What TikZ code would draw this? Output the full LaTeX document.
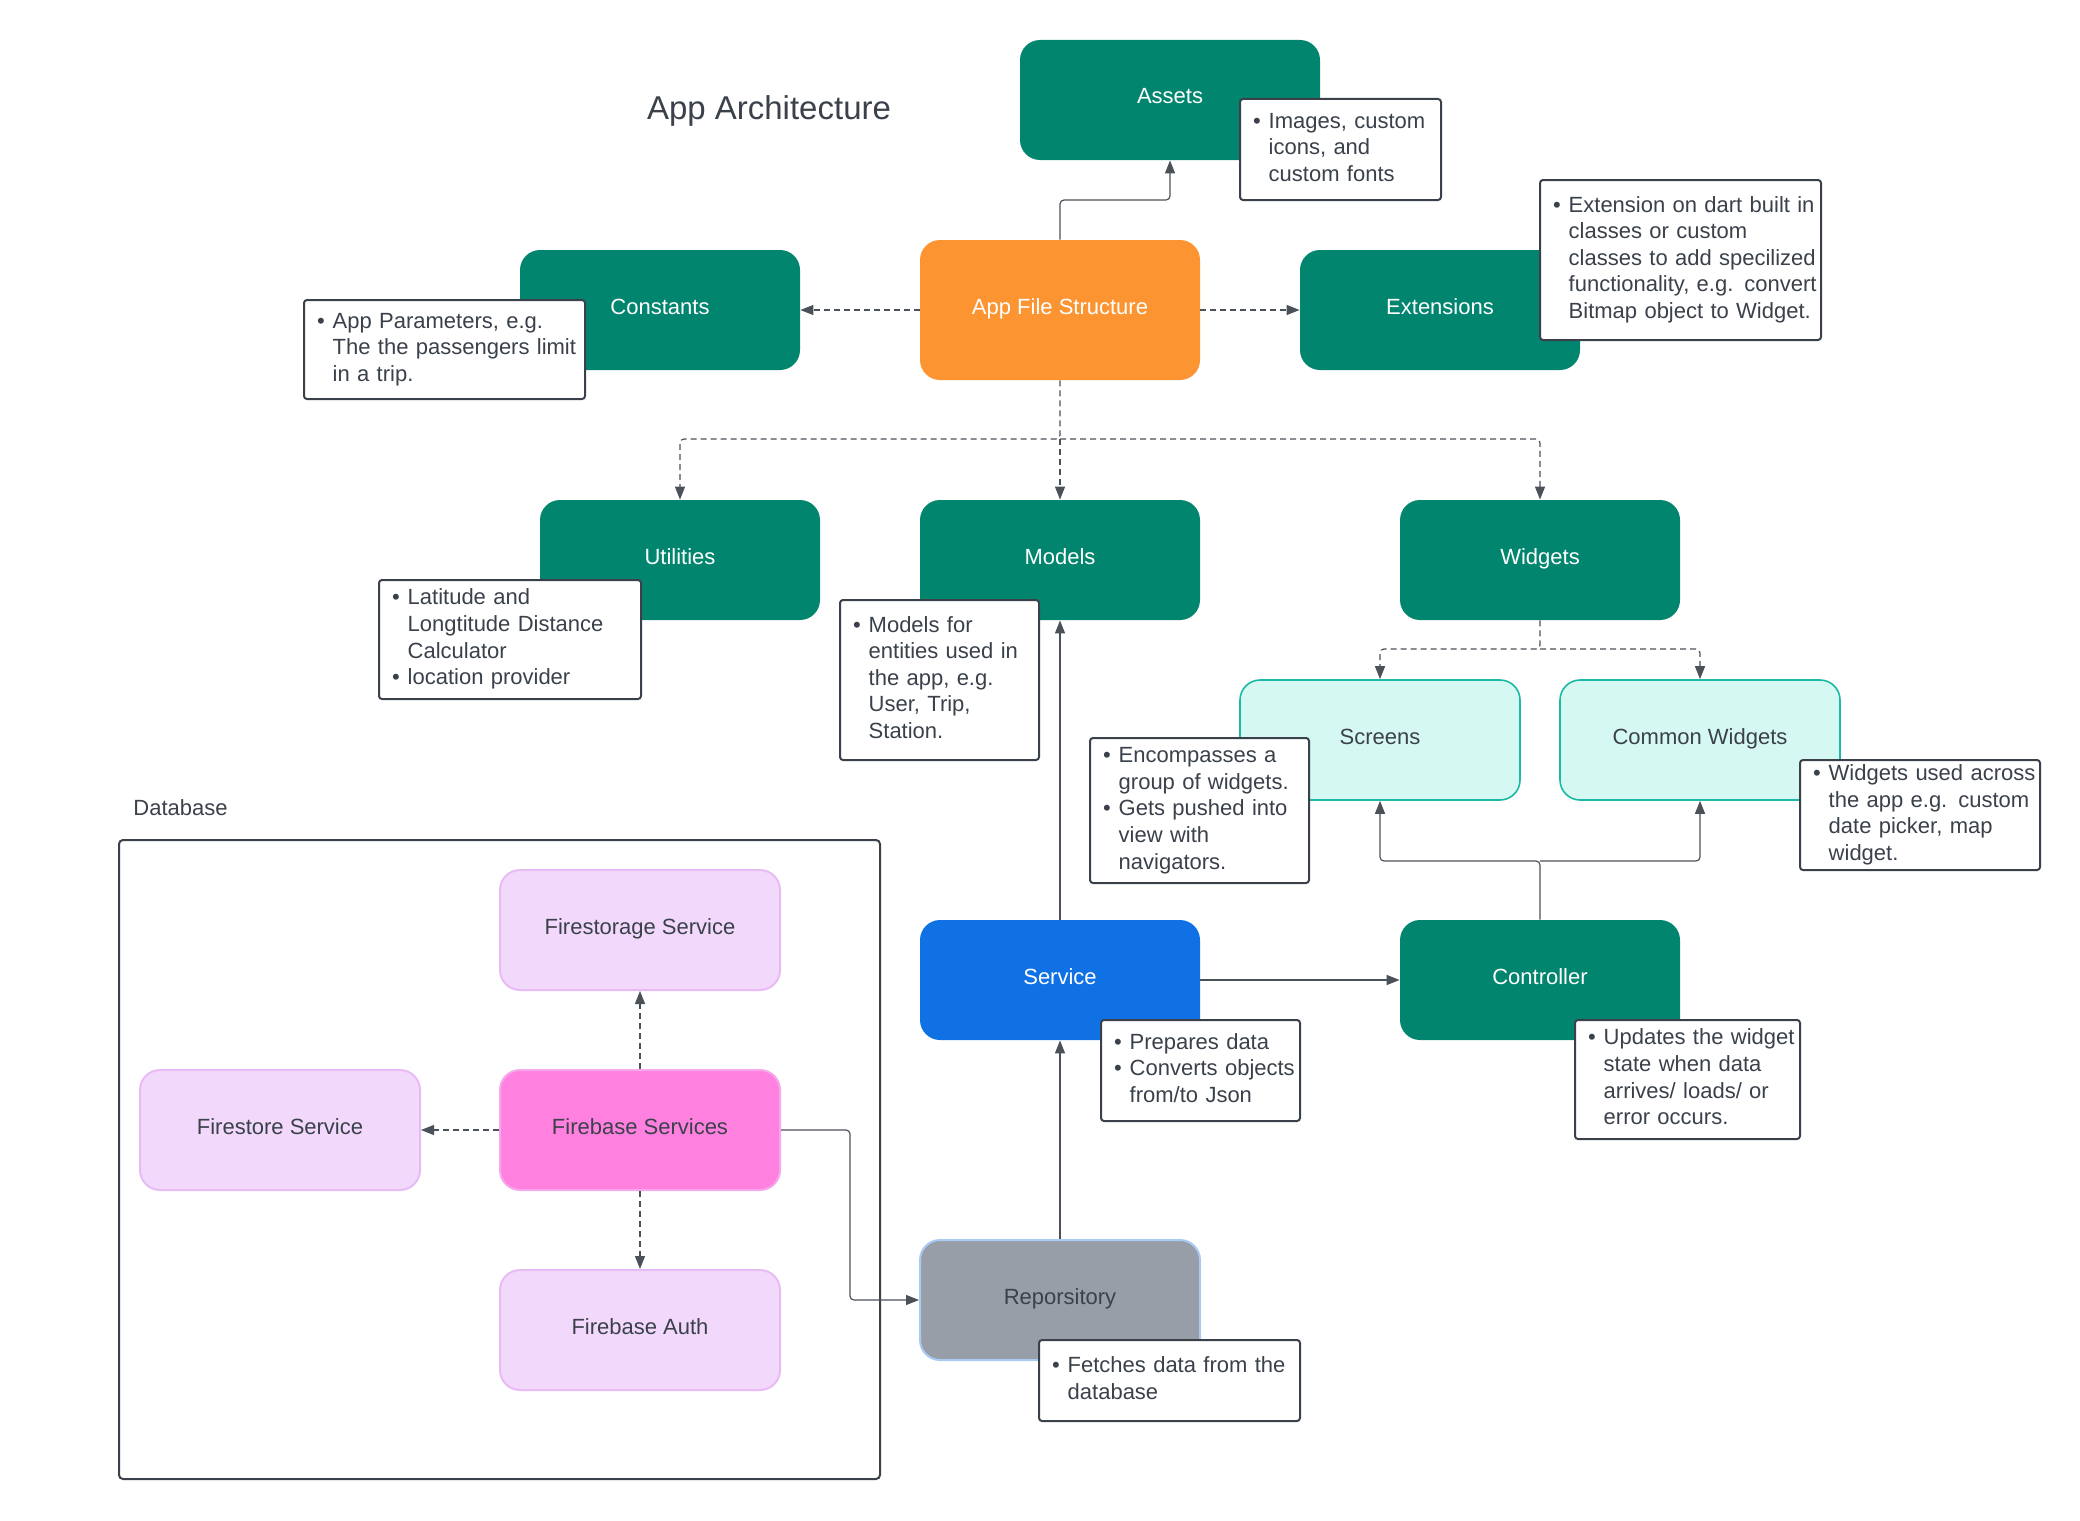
\documentclass[tikz,border=0pt]{standalone}
\usepackage{fontspec}
\setmainfont{Liberation Sans}
\usepackage{xcolor}
\usepackage{tikz}
\usetikzlibrary{positioning, arrows.meta, calc}

\definecolor{tealbg}{HTML}{02856F}
\definecolor{orangebg}{HTML}{FC9432}
\definecolor{bluebg}{HTML}{1071E5}
\definecolor{graybg}{HTML}{979EA8}
\definecolor{grayedge}{HTML}{A9CBF3}
\definecolor{cyanbg}{HTML}{D6F8F2}
\definecolor{cyanedge}{HTML}{1DB9A5}
\definecolor{pinkbg}{HTML}{FF80DF}
\definecolor{pinkedge}{HTML}{F5A8EB}
\definecolor{lilacbg}{HTML}{F2D9FC}
\definecolor{lilacedge}{HTML}{E9BBF6}
\definecolor{inkcol}{HTML}{3A414A}
\definecolor{linecol}{HTML}{4B5159}

\newcommand{\notelist}[1]{\noindent\begin{tabular}{@{}l@{\hspace{4pt}}l@{}}#1\end{tabular}}

\tikzset{
  box/.style={rounded corners=10pt, minimum width=140pt, minimum height=60pt, inner sep=0pt, text height=6pt, text depth=2pt, font=\fontsize{11}{13}\selectfont},
  tealbox/.style={box, fill=tealbg, text=white},
  lightbox/.style={box, fill=lilacbg, draw=lilacedge, line width=1pt, text=inkcol},
  cyanbox/.style={box, fill=cyanbg, draw=cyanedge, line width=0.8pt, text=inkcol},
  note/.style={draw=inkcol, line width=1pt, fill=white, rounded corners=1.5pt, inner xsep=6.5pt, inner ysep=0pt, align=left, text=inkcol, font=\fontsize{11}{13.3}\selectfont},
  link/.style={draw=linecol, line width=0.6pt, rounded corners=2pt, -{Triangle[length=6.5pt,width=5pt]}},
  dashlink/.style={link, dash pattern=on 3pt off 2pt},
}

\begin{document}
\begin{tikzpicture}[x=0.5pt, y=-0.5pt]
\useasboundingbox (0,0) rectangle (2080,1520);

\node[text=inkcol, font=\fontsize{16.5}{20}\selectfont] (title) at (769,111) {App Architecture};

\node[tealbox, minimum width=150pt] (assets) at (1170,100) {Assets};
\node[box, fill=orangebg, text=white, minimum height=70pt] (afs) at (1060,310) {App File Structure};
\node[tealbox] (const) at (660,310) {Constants};
\node[tealbox] (ext) at (1440,310) {Extensions};

\node[tealbox] (util) at (680,560) {Utilities};
\node[tealbox] (models) at (1060,560) {Models};
\node[tealbox] (widgets) at (1540,560) {Widgets};
\node[cyanbox] (screens) at (1380,740) {Screens};
\node[cyanbox] (common) at (1700,740) {Common Widgets};

\node[box, fill=bluebg, text=white] (service) at (1060,980) {Service};
\node[tealbox] (ctrl) at (1540,980) {Controller};
\node[box, fill=graybg, draw=grayedge, line width=1pt, text=inkcol] (repo) at (1060,1300) {Reporsitory};

\node[anchor=west, inner sep=0pt, text=inkcol, font=\fontsize{11}{13}\selectfont] (dblabel) at (133,808) {Database};
\draw[inkcol, line width=1pt, rounded corners=2pt] (119,840) rectangle (880,1479);
\node[lightbox] (storage) at (640,930) {Firestorage Service};
\node[lightbox, fill=pinkbg, draw=pinkedge] (fb) at (640,1130) {Firebase Services};
\node[lightbox] (store) at (280,1130) {Firestore Service};
\node[lightbox] (auth) at (640,1330) {Firebase Auth};

\coordinate (afssplit) at (1060,439);
\coordinate (wsplit) at (1540,649);
\coordinate (csplit) at (1540,861);
\coordinate (fbbend) at (850,1130);

\draw[link] (afs.north) |- ($(afs.north)!.5!(assets.south)$) -| (assets.south);
\draw[dashlink] (afs.west) -- (const.east);
\draw[dashlink] (afs.east) -- (ext.west);
\draw[dashlink] (afs.south) -- (afssplit) -| (util.north);
\draw[dashlink] (afssplit) -- (models.north);
\draw[dashlink] (afssplit) -| (widgets.north);
\draw[dashlink] (widgets.south) -- (wsplit) -| (screens.north);
\draw[dashlink] (wsplit) -| (common.north);
\draw[link] (ctrl.north) -- (csplit) -| (screens.south);
\draw[link] (csplit) -| (common.south);
\draw[link] (service.east) -- (ctrl.west);
\draw[link] (service.north) -- (models.south);
\draw[link] (repo.north) -- (service.south);
\draw[link] (fb.east) -- (fbbend) |- (repo.west);
\draw[dashlink] (fb.north) -- (storage.south);
\draw[dashlink] (fb.west) -- (store.east);
\draw[dashlink] (fb.south) -- (auth.north);

\node[note, text width=87.5pt, minimum height=50.5pt] (assetsnote) at (1340.5,149.5)
  {\notelist{\textbullet & Images, custom\\ & icons, and\\ & custom fonts}};
\node[note, text width=127.5pt, minimum height=49.5pt] (constnote) at (444.5,349.5)
  {\notelist{\textbullet & App Parameters, e.g.\\ & The the passengers limit\\ & in a trip.}};
\node[note, text width=127.5pt, minimum height=80pt] (extnote) at (1680.5,260)
  {\notelist{\textbullet & Extension on dart built in\\ & classes or custom\\ & classes to add specilized\\ & functionality, e.g. convert\\ & Bitmap object to Widget.}};
\node[note, text width=118pt, minimum height=59.5pt] (utilnote) at (510,639.5)
  {\notelist{\textbullet & Latitude and\\ & Longtitude Distance\\ & Calculator\\ \textbullet & location provider}};
\node[note, text width=86.5pt, minimum height=80pt] (modelsnote) at (939.5,680)
  {\notelist{\textbullet & Models for\\ & entities used in\\ & the app, e.g.\\ & User, Trip,\\ & Station.}};
\node[note, text width=96.5pt, minimum height=72.5pt] (screensnote) at (1199.5,810.5)
  {\notelist{\textbullet & Encompasses a\\ & group of widgets.\\ \textbullet & Gets pushed into\\ & view with\\ & navigators.}};
\node[note, text width=107pt, minimum height=55pt] (commonnote) at (1920,815)
  {\notelist{\textbullet & Widgets used across\\ & the app e.g. custom\\ & date picker, map\\ & widget.}};
\node[note, text width=86.5pt, minimum height=50.5pt] (servicenote) at (1200.5,1070.5)
  {\notelist{\textbullet & Prepares data\\ \textbullet & Converts objects\\ & from/to Json}};
\node[note, text width=99.5pt, minimum height=59.5pt] (ctrlnote) at (1687.5,1079.5)
  {\notelist{\textbullet & Updates the widget\\ & state when data\\ & arrives/ loads/ or\\ & error occurs.}};
\node[note, text width=117.5pt, minimum height=40.5pt] (reponote) at (1169.5,1380.5)
  {\notelist{\textbullet & Fetches data from the\\ & database}};
\end{tikzpicture}
\end{document}
